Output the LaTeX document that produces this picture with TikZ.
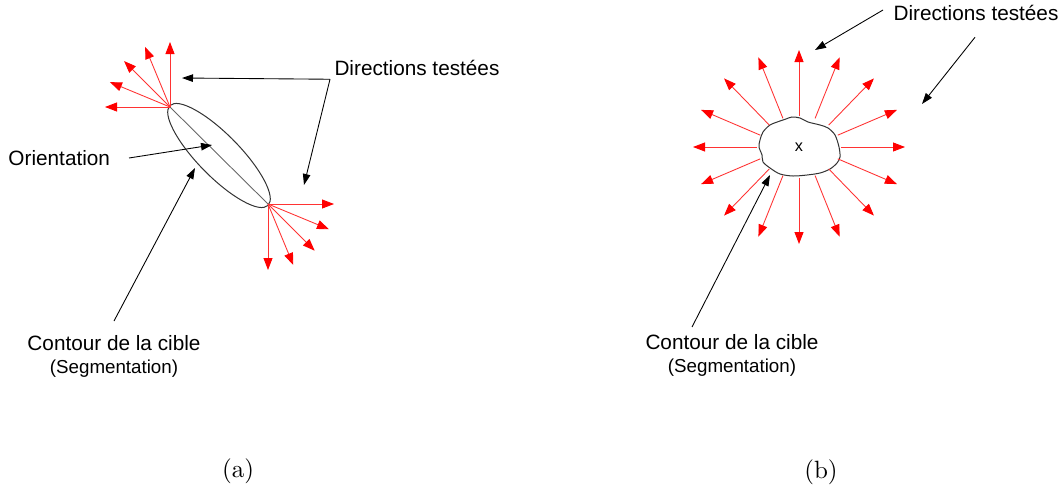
\documentclass[tikz,border=0pt]{standalone}
\usepackage{fontspec}
\newfontfamily\lblsans{Liberation Sans}
\usetikzlibrary{arrows.meta, calc}
\tikzset{
    tst/.style={-{Triangle[length=4.8pt, width=3.6pt, color=red]}, draw=red!80, line width=0.35pt},
    ptr/.style={-{Triangle[length=4.4pt, width=3pt]}, black, line width=0.35pt},
    cnt/.style={draw=black!80, line width=0.4pt},
    lab/.style={font=\lblsans\fontsize{8.3}{9}\selectfont, inner sep=0pt, align=center},
    subcap/.style={font=\fontsize{10}{12}\selectfont, inner sep=0pt},
}

\begin{document}
\begin{tikzpicture}[x=0.4pt, y=-0.4pt]
    \useasboundingbox (0,0) rectangle (1064,493);
    % (a) elongated target with its orientation axis
    \coordinate (tipA) at (170,107);
    \coordinate (tipB) at (268,204);
    \coordinate (ectr) at ($(tipA)!0.5!(tipB)$);
    \draw[cnt, rotate around={-45.5:(ectr)}] (ectr) ellipse [x radius=70, y radius=21];
    \draw[black!60, line width=0.35pt] (tipA) -- (tipB);
    \foreach \a in {180,202.5,...,270} \draw[tst] (tipA) -- ++(\a:65);
    \foreach \a in {0,22.5,...,90} \draw[tst] (tipB) -- ++(\a:66);
    \node[lab, anchor=west] (dirA) at (334,68) {Directions testées};
    \node[lab, anchor=west] (ori) at (8,158) {Orientation};
    \node[lab, anchor=north] (cibA) at (114,335) {Contour de la cible\\{\fontsize{7.5}{9}\selectfont(Segmentation)}};
    \node[subcap] (capA) at (238,471) {(a)};
    \coordinate (nearA) at (182,78);
    \coordinate (nearB) at (304,185);
    \coordinate (oriTip) at (212,145);
    \coordinate (cibTipA) at (195,168);
    \draw[ptr] ([xshift=-1.6pt, yshift=-1.2pt]dirA.south west) coordinate (dA) -- (nearA);
    \draw[ptr] (dA) -- (nearB);
    \draw[ptr] ([xshift=7.4pt]ori.east) -- (oriTip);
    \draw[ptr] ([yshift=5.6pt]cibA.north) -- (cibTipA);

    % (b) blob target, all directions
    \coordinate (bc) at (799,147);
    \draw[cnt] plot[smooth cycle, tension=0.5] coordinates {(770,125) (780,121) (786,119) (792,117)
        (800,118) (808,122) (820,125) (828,128) (835,135) (839,147) (840,157) (837,163) (830,169)
        (820,173) (807,175) (793,176) (780,174) (770,168) (763,162) (762,155) (759,147) (760,140) (763,132)};
    \node[font=\lblsans\fontsize{6.5}{8}\selectfont, inner sep=0pt] (mark) at (bc) {x};
    \foreach \a in {0,22.5,...,337.5}
        \draw[tst] ($(bc)+(\a:42 and 31)$) -- ($(bc)+(\a:106 and 97)$);
    \node[lab, anchor=west] (dirB) at (893,13) {Directions testées};
    \node[lab, anchor=north] (cibB) at (732,334) {Contour de la cible\\{\fontsize{7.5}{9}\selectfont(Segmentation)}};
    \node[subcap] (capB) at (821,472) {(b)};
    \coordinate (nearC) at (815,50);
    \coordinate (nearD) at (922,104);
    \coordinate (cibTipB) at (770,175);
    \draw[ptr] ([xshift=-4pt, yshift=1.2pt]dirB.west) -- (nearC);
    \draw[ptr] ([xshift=32.8pt, yshift=-6.4pt]dirB.south west) -- (nearD);
    \draw[ptr] ([xshift=-16pt, yshift=2.8pt]cibB.north) -- (cibTipB);
\end{tikzpicture}
\end{document}
